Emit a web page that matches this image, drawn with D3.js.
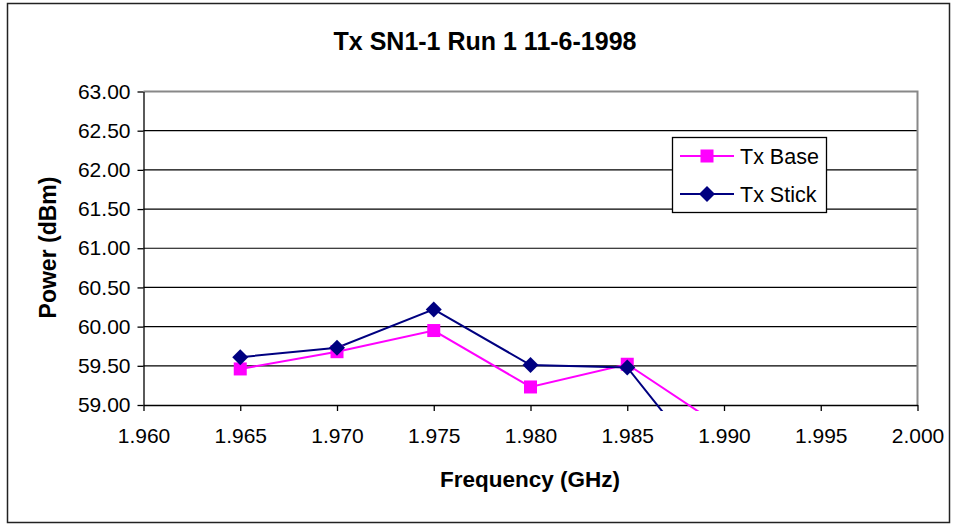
<!DOCTYPE html>
<html>
<head>
<meta charset="utf-8">
<script src="https://cdn.jsdelivr.net/npm/d3@7"></script>
<style>
  body { margin: 0; background: #fff; }
  svg { display: block; font-family: "Liberation Sans", Arial, sans-serif; }
</style>
</head>
<body>
<svg></svg>
<script>
let freqs = [1.965, 1.970, 1.975, 1.980, 1.985, 1.990]
let txBase = [59.46, 59.68, 59.95, 59.23, 59.52, 58.70]
let txStick = [59.61, 59.73, 60.22, 59.51, 59.48, 57.93]
let seriesNames = ['Tx Base', 'Tx Stick']
let xTicks = [1.960, 1.965, 1.970, 1.975, 1.980, 1.985, 1.990, 1.995, 2.000]
let yTicks = [59.0, 59.5, 60.0, 60.5, 61.0, 61.5, 62.0, 62.5, 63.0]

let width = 956
let height = 525
let plotLeft = 143.5, plotRight = 917.5, plotTop = 91.5, plotBottom = 405

let svg = d3.select('svg').attr('width', width).attr('height', height)

// outer frame
svg.append('rect')
   .attr('x', 7.5).attr('y', 3.5)
   .attr('width', 942).attr('height', 519)
   .attr('fill', 'none').attr('stroke', '#222').attr('stroke-width', 1.5)

let xScale = d3.scaleLinear().domain([1.96, 2.0]).range([plotLeft, plotRight])
let yScale = d3.scaleLinear().domain([59, 63]).range([plotBottom, plotTop])

// grid
svg.append('g')
   .selectAll('line')
   .data(yTicks.slice(1, -1))
   .enter()
   .append('line')
   .attr('x1', plotLeft).attr('x2', plotRight)
   .attr('y1', d => yScale(d)).attr('y2', d => yScale(d))
   .attr('stroke', '#000').attr('stroke-width', 1.2)

// plot border (top/right gray)
svg.append('path')
   .attr('d', `M${plotLeft},${plotTop}H${plotRight}V${plotBottom}`)
   .attr('fill', 'none').attr('stroke', '#888').attr('stroke-width', 2)

let xAxis = d3.axisBottom(xScale).tickValues(xTicks).tickFormat(d3.format('.3f'))
               .tickSizeInner(6).tickSizeOuter(0).tickPadding(17)
let yAxis = d3.axisLeft(yScale).tickValues(yTicks).tickFormat(d3.format('.2f'))
               .tickSizeInner(6).tickSizeOuter(0).tickPadding(7)

let gx = svg.append('g')
   .attr('transform', 'translate(0,' + plotBottom + ')')
   .call(xAxis)
let gy = svg.append('g')
   .attr('transform', 'translate(' + plotLeft + ',0)')
   .call(yAxis)

for (let g of [gx, gy]) {
  g.selectAll('path, line').attr('stroke', '#000').attr('stroke-width', 1.3)
  g.selectAll('text').attr('fill', '#000').style('font-size', '21px')
   .style('font-family', '"Liberation Sans", Arial, sans-serif')
}

// clip the lines slightly below the axis like the original
svg.append('clipPath').attr('id', 'clip')
   .append('rect').attr('x', plotLeft).attr('y', plotTop)
   .attr('width', plotRight - plotLeft).attr('height', plotBottom - plotTop + 6)

let colors = ['#ff00ff', '#000080']
let allSeries = [txBase, txStick]

let line = d3.line().x((d, i) => xScale(freqs[i])).y(d => yScale(d))

let plot = svg.append('g').attr('clip-path', 'url(#clip)')

allSeries.forEach((vals, s) => {
  plot.append('path')
      .attr('d', line(vals))
      .attr('fill', 'none')
      .attr('stroke', colors[s])
      .attr('stroke-width', 2)
})

let drawMarker = (g, s, x, y) => {
  if (s === 0) {
    g.append('rect')
     .attr('x', x - 6.5).attr('y', y - 6.5)
     .attr('width', 13).attr('height', 13)
     .attr('fill', colors[0])
  } else {
    g.append('path')
     .attr('d', `M${x},${y - 8}L${x + 8},${y}L${x},${y + 8}L${x - 8},${y}Z`)
     .attr('fill', colors[1])
  }
}

allSeries.forEach((vals, s) => {
  vals.forEach((v, i) => {
    if (v >= 59) drawMarker(plot, s, xScale(freqs[i]), yScale(v))
  })
})

// legend
let legend = svg.append('g')
legend.append('rect')
      .attr('x', 672.5).attr('y', 137.5)
      .attr('width', 154).attr('height', 75)
      .attr('fill', '#fff').attr('stroke', '#000').attr('stroke-width', 1.3)

seriesNames.forEach((name, s) => {
  let cy = 156 + s * 38
  legend.append('line')
        .attr('x1', 680).attr('x2', 734)
        .attr('y1', cy).attr('y2', cy)
        .attr('stroke', colors[s]).attr('stroke-width', 2)
  drawMarker(legend, s, 707, cy)
  legend.append('text')
        .attr('x', 740).attr('y', cy)
        .attr('dy', '0.36em')
        .style('font-size', '21.5px')
        .text(name)
})

// titles
svg.append('text')
   .attr('x', 485).attr('y', 50)
   .attr('text-anchor', 'middle')
   .style('font-size', '25px').style('font-weight', 'bold')
   .text('Tx SN1-1 Run 1 11-6-1998')

svg.append('text')
   .attr('x', 530).attr('y', 487)
   .attr('text-anchor', 'middle')
   .style('font-size', '22.5px').style('font-weight', 'bold')
   .text('Frequency (GHz)')

svg.append('text')
   .attr('transform', 'translate(56,247.5) rotate(-90)')
   .attr('text-anchor', 'middle')
   .style('font-size', '23px').style('font-weight', 'bold')
   .text('Power (dBm)')
</script>
</body>
</html>
